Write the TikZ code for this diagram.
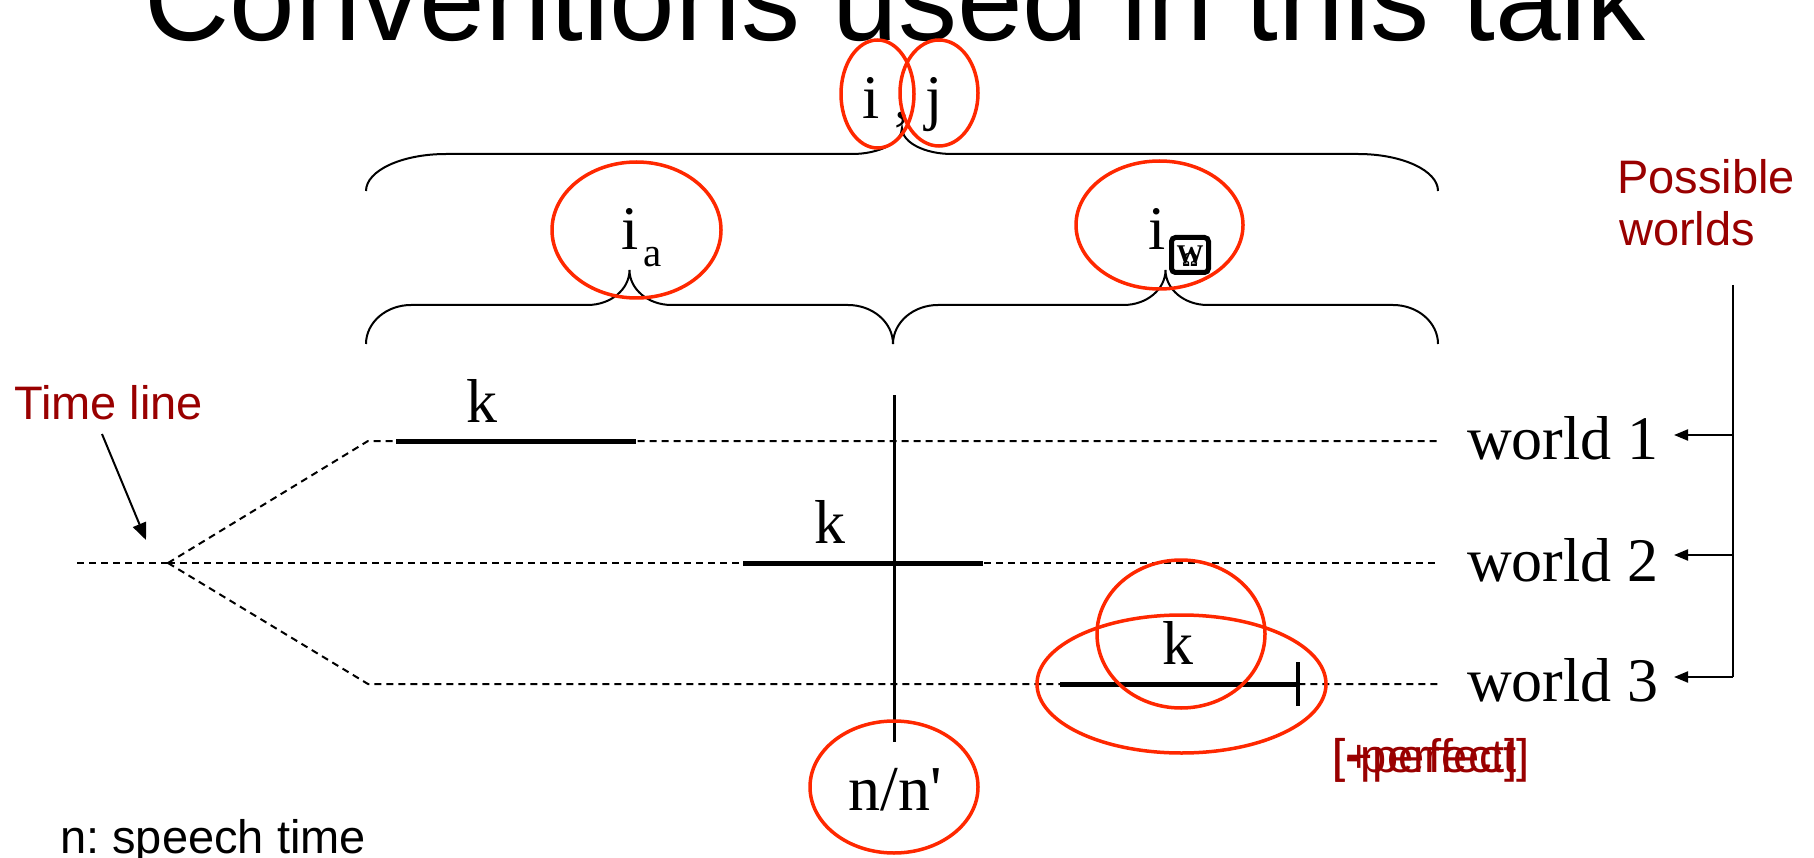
\documentclass[tikz,border=0pt]{standalone}
\usepackage{fontspec}
\setmainfont{Liberation Serif}
\newfontfamily\arialfont{Liberation Sans}
\usetikzlibrary{arrows.meta}
\definecolor{darkred}{RGB}{153,0,0}
\definecolor{ringred}{RGB}{255,40,0}
\frenchspacing

\begin{document}
\begin{tikzpicture}[x=1pt,y=-1pt,
  serif/.style={font=\fontsize{62}{70}\selectfont, inner sep=0pt},
  sublabel/.style={font=\fontsize{41}{46}\selectfont, inner sep=0pt},
  note/.style={font=\arialfont\fontsize{47}{52}\selectfont, text=darkred, inner sep=0pt},
  brace/.style={line width=2pt},
  timeline/.style={line width=2pt, dash pattern=on 7pt off 5pt},
  interval/.style={line width=5pt},
  ring/.style={draw=ringred, line width=3.5pt},
  pointer/.style={line width=2pt, -{Triangle[length=14pt,width=11pt]}},
  bigpointer/.style={line width=2pt, -{Triangle[length=17pt,width=14pt]}},
]
\useasboundingbox (0,0) rectangle (1814,858);
\clip (0,0) rectangle (1814,858);

% title (partly above the page)
\node[anchor=base west, inner sep=0pt, font=\arialfont\fontsize{118}{130}\selectfont] (title) at (144,41) {Conventions used in this talk};

% top label and braces
\node[serif, anchor=base west] (ij) at (862,119) {i , j};

\draw[brace] (366,191) .. controls (366,170.6) and (401.8,154) .. (446,154) -- (852,154)
  .. controls (879.6,154) and (902,142.4) .. (902,128)
  .. controls (902,142.4) and (924.4,154) .. (952,154) -- (1358,154)
  .. controls (1402.2,154) and (1438,170.6) .. (1438,191);

\node[serif, anchor=base] (ia) at (630,250) {i};
\node[sublabel, anchor=base west] (iasub) at (643,267) {a};

\node[serif, anchor=base] (iw) at (1157,250) {i};
\node[draw, line width=5pt, rounded corners=4pt, minimum width=37pt, minimum height=35pt, inner sep=0pt] (wbox) at (1190,255) {};
\node[inner sep=0pt, font=\fontsize{27}{27}\selectfont\bfseries] (wglyph) at (1190,255) {W};
\node[inner sep=0pt, font=\fontsize{20}{20}\selectfont\bfseries] (oglyph) at (1190,260) {Ω};

\draw[brace] (366,344) .. controls (366,322.5) and (386.2,305) .. (411,305) -- (587.5,305)
  .. controls (610.7,305) and (629.5,289.3) .. (629.5,270)
  .. controls (629.5,289.3) and (648.3,305) .. (671.5,305) -- (848,305)
  .. controls (872.8,305) and (893,322.5) .. (893,344);
\draw[brace] (893,344) .. controls (893,322.5) and (913.2,305) .. (938,305) -- (1123.5,305)
  .. controls (1146.7,305) and (1165.5,289.3) .. (1165.5,270)
  .. controls (1165.5,289.3) and (1184.3,305) .. (1207.5,305) -- (1393,305)
  .. controls (1417.8,305) and (1438,322.5) .. (1438,344);

% time lines
\coordinate (fork) at (168,563);
\draw[timeline] (77,563) -- (fork);
\draw[timeline] (fork) -- (368,441) -- (1438,441);
\draw[timeline] (fork) -- (1438,563);
\draw[timeline] (fork) -- (368,684) -- (1438,684);

\node[note, anchor=base west] (tl) at (14,419) {Time line};
\coordinate (tlfrom) at (102,434);
\coordinate (tlto) at (146,540);
\draw[bigpointer] (tlfrom) -- (tlto);

% intervals k
\draw[interval] (396,441) -- (636,441);
\draw[interval] (743,563) -- (983,563);
\draw[interval] (1060,684) -- (1298,684);
\draw[line width=3.5pt] (1298,662) -- (1298,706);
\node[serif, anchor=base] (k1) at (482,422) {k};
\node[serif, anchor=base] (k2) at (830,543) {k};
\node[serif, anchor=base] (k3) at (1178,664) {k};

% speech time
\draw[line width=3pt] (894,395) -- (894,742);
\node[serif, anchor=base, font=\fontsize{64}{70}\selectfont] (now) at (895,810) {n/n\textquotesingle};

% worlds
\node[serif, anchor=base west] (w1) at (1467,459) {world 1};
\node[serif, anchor=base west] (w2) at (1467,581) {world 2};
\node[serif, anchor=base west] (w3) at (1467,701) {world 3};
\node[note, anchor=base west] (pw1) at (1617,194) {Possible};
\node[note, anchor=base west] (pw2) at (1619,246) {worlds};
\coordinate (rail) at (1733,285);
\coordinate (a1) at (1733,435);
\coordinate (a2) at (1733,555);
\coordinate (a3) at (1733,677);
\draw[line width=2pt] (rail) -- (a3);
\draw[pointer] (a1) -- ++(-59,0);
\draw[pointer] (a2) -- ++(-59,0);
\draw[pointer] (a3) -- ++(-59,0);

% feature labels
\node[note, anchor=base west] (pplus) at (1332,772) {[+perfect]};
\node[note, anchor=base west] (pminus) at (1332,772) {[-perfect]};
\node[anchor=base west, inner sep=0pt, font=\arialfont\fontsize{47}{52}\selectfont] (nnote) at (60,853) {n: speech time};

% highlight rings
\draw[ring] (877.5,94) ellipse [x radius=36.5pt, y radius=54pt];
\draw[ring] (939,93) ellipse [x radius=39pt, y radius=53pt];
\draw[ring] (636.5,230) ellipse [x radius=84.5pt, y radius=68pt];
\draw[ring] (1159.5,225) ellipse [x radius=83.5pt, y radius=64pt];
\draw[ring] (1181,634) ellipse [x radius=84pt, y radius=74pt];
\draw[ring] (1181.5,684) ellipse [x radius=144.5pt, y radius=69pt];
\draw[ring] (894,787) ellipse [x radius=84pt, y radius=66pt];
\end{tikzpicture}
\end{document}
